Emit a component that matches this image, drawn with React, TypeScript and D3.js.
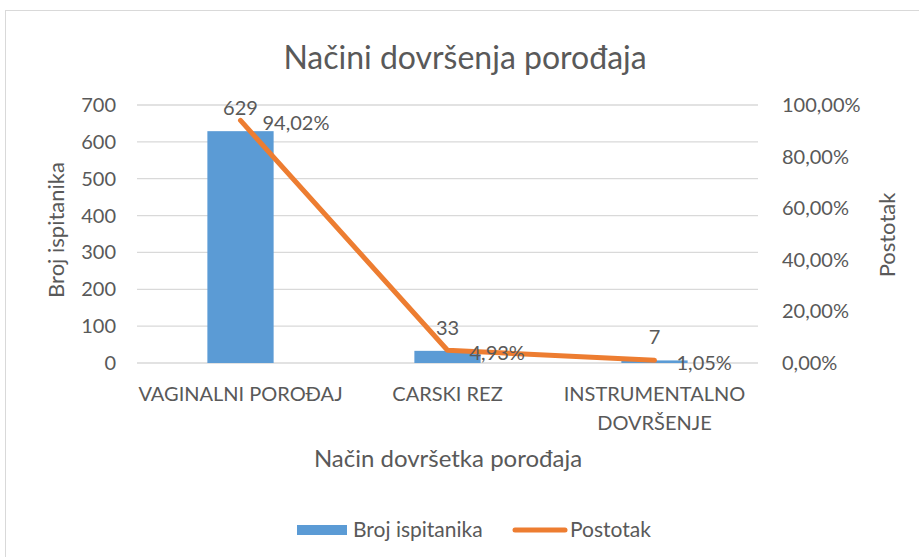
import React from 'react';
import * as d3 from 'd3';

// Data
const categories = ['VAGINALNI POROĐAJ', 'CARSKI REZ', 'INSTRUMENTALNO DOVRŠENJE'];
const categoryLines = [['VAGINALNI POROĐAJ'], ['CARSKI REZ'], ['INSTRUMENTALNO', 'DOVRŠENJE']];
const counts = [629, 33, 7];
const percents = [94.02, 4.93, 1.05];
const leftTicks = [0, 100, 200, 300, 400, 500, 600, 700];
const rightTicks = [0, 20, 40, 60, 80, 100];

const FONT = 'Lato, "Open Sans", sans-serif';
const TEXT = '#595959';

export default function App() {
  const width = 919;
  const height = 557;
  const plot = { left: 137, right: 758, top: 105, bottom: 363 };

  const x = d3.scaleBand().domain(categories).range([plot.left, plot.right]).paddingInner(0).paddingOuter(0);
  const yLeft = d3.scaleLinear().domain([0, 700]).range([plot.bottom, plot.top]);
  const yRight = d3.scaleLinear().domain([0, 100]).range([plot.bottom, plot.top]);

  const barW = x.bandwidth() * 0.32;
  const cx = (c: string) => (x(c) as number) + x.bandwidth() / 2;

  const line = d3
    .line<number>()
    .x((_, i) => cx(categories[i]))
    .y((d) => yRight(d));

  const fmtPct = (v: number) => v.toFixed(2).replace('.', ',') + '%';

  return (
    <svg
      width={width}
      height={height}
      style={{ position: 'absolute', left: 0, top: 0, background: '#fff' }}
      fontFamily={FONT}
    >
      <rect x={5.5} y={10.5} width={930} height={560} fill="#fff" stroke="#d9d9d9" />

      {/* title */}
      <text x={465} y={69} textAnchor="middle" fontSize={32} fill={TEXT}>
        Načini dovršenja porođaja
      </text>

      {/* gridlines */}
      {leftTicks.map((t) => (
        <line key={'g' + t} x1={plot.left} x2={plot.right} y1={yLeft(t)} y2={yLeft(t)} stroke="#d9d9d9" strokeWidth={1.3} />
      ))}

      {/* left ticks */}
      {leftTicks.map((t) => (
        <text key={'l' + t} x={116} y={yLeft(t)} dy="0.35em" textAnchor="end" fontSize={20} fill={TEXT}>
          {t}
        </text>
      ))}

      {/* right ticks */}
      {rightTicks.map((t) => (
        <text key={'r' + t} x={782} y={yRight(t)} dy="0.35em" textAnchor="start" fontSize={20} fill={TEXT}>
          {fmtPct(t)}
        </text>
      ))}

      {/* axis titles */}
      <text transform={`translate(64,230) rotate(-90)`} textAnchor="middle" fontSize={22} fill={TEXT}>
        Broj ispitanika
      </text>
      <text transform={`translate(895,235) rotate(-90)`} textAnchor="middle" fontSize={22} fill={TEXT}>
        Postotak
      </text>

      {/* bars */}
      {categories.map((c, i) => (
        <rect
          key={'b' + c}
          x={cx(c) - barW / 2}
          y={yLeft(counts[i])}
          width={barW}
          height={yLeft(0) - yLeft(counts[i])}
          fill="#5b9bd5"
        />
      ))}

      {/* bar labels */}
      {categories.map((c, i) => (
        <text key={'bl' + c} x={cx(c)} y={yLeft(counts[i]) - 16} textAnchor="middle" fontSize={20} fill={TEXT}>
          {counts[i]}
        </text>
      ))}

      {/* line */}
      <path d={line(percents) || ''} fill="none" stroke="#ed7d31" strokeWidth={5} strokeLinecap="round" strokeLinejoin="round" />

      {/* line labels */}
      {categories.map((c, i) => (
        <text key={'pl' + c} x={cx(c) + 22} y={yRight(percents[i]) + 10} textAnchor="start" fontSize={20} fill={TEXT}>
          {fmtPct(percents[i])}
        </text>
      ))}

      {/* category labels */}
      {categories.map((c, i) => (
        <text key={'c' + c} x={cx(c)} y={401} textAnchor="middle" fontSize={20} fill={TEXT}>
          {categoryLines[i].map((ln, j) => (
            <tspan key={j} x={cx(c)} dy={j === 0 ? 0 : 29}>
              {ln}
            </tspan>
          ))}
        </text>
      ))}

      {/* x axis title */}
      <text x={448} y={467} textAnchor="middle" fontSize={24} fill={TEXT}>
        Način dovršetka porođaja
      </text>

      {/* legend */}
      <rect x={297} y={525} width={50} height={10} fill="#5b9bd5" />
      <text x={353} y={530} dy="0.35em" fontSize={21} fill={TEXT}>
        Broj ispitanika
      </text>
      <line x1={515} x2={565} y1={530} y2={530} stroke="#ed7d31" strokeWidth={5} strokeLinecap="round" />
      <text x={570} y={530} dy="0.35em" fontSize={21} fill={TEXT}>
        Postotak
      </text>
    </svg>
  );
}
